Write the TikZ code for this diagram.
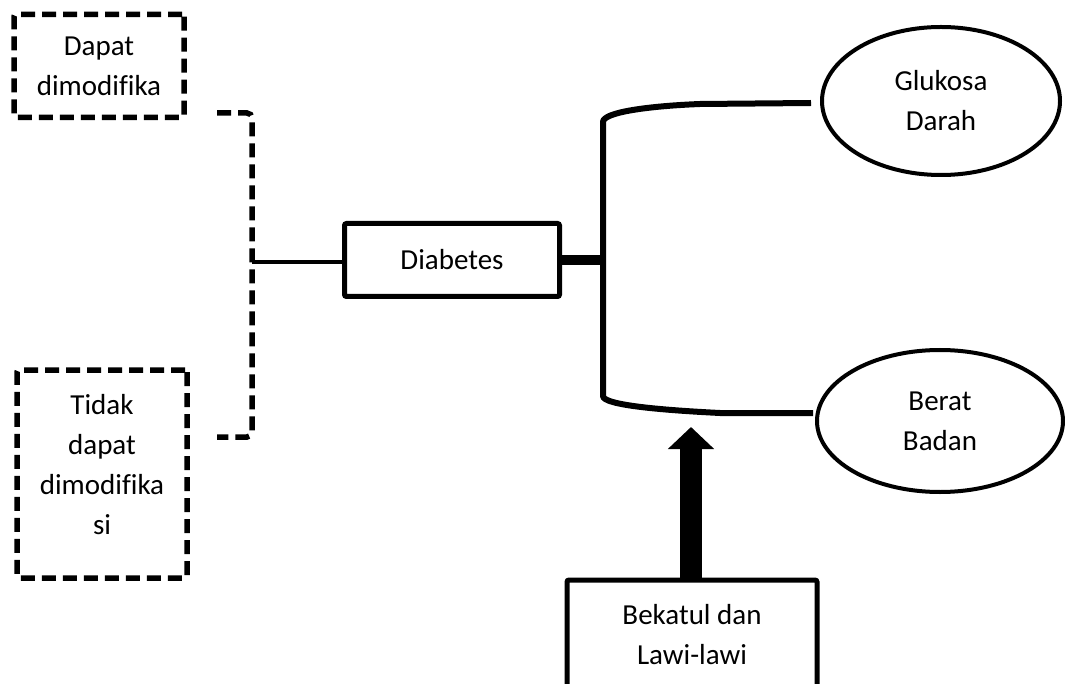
\documentclass[tikz,border=0pt]{standalone}
\usepackage{fontspec}
\setmainfont[Ligatures=NoCommon]{Carlito}
\usetikzlibrary{shapes.geometric,arrows.meta}
\begin{document}
\begin{tikzpicture}[x=1pt,y=-1pt,
 txt/.style={font=\fontsize{29}{40}\selectfont, align=center},
 dbox/.style={draw, line width=5.5pt, dash pattern=on 14pt off 7pt, rounded corners=2pt, txt, inner sep=0pt},
 sbox/.style={draw, line width=5pt, rounded corners=2pt, txt, inner sep=0pt},
 ell/.style={draw, ellipse, line width=4pt, txt, inner sep=0pt},
 dline/.style={line width=5.5pt, dash pattern=on 14pt off 7pt, rounded corners=5pt},
]
\clip (0,0) rectangle (1065,684);
\node[dbox, minimum width=170pt, minimum height=103pt] (mod) at (99,66) {Dapat\\dimodifika};
\node[dbox, minimum width=170pt, minimum height=208pt] (nmod) at (102,474) {Tidak\\dapat\\dimodifika\\si\\[-20pt]\mbox{}};
\node[sbox, minimum width=215pt, minimum height=73pt] (diab) at (452,260) {Diabetes};
\node[ell, minimum width=238pt, minimum height=148pt] (gluk) at (941,101) {Glukosa\\Darah};
\node[ell, minimum width=246pt, minimum height=142pt] (berat) at (940,421) {Berat\\Badan};
\node[sbox, minimum width=250pt, minimum height=110pt] (bek) at (692,635) {Bekatul dan\\Lawi-lawi};

\coordinate (bt) at (217,113);
\coordinate (bb) at (217,437);
\coordinate (bj) at (252,262);
\draw[dline] (bt) -- (252,113) -- (252,437) -- (bb);
\draw[line width=4.5pt] (bj) -- (bj -| diab.west);

\coordinate (trunk) at (603,260);
\draw[line width=10pt] (diab.east) -- (trunk);
\draw[line width=6pt] ([xshift=-9pt,yshift=-2pt]gluk.west) -- (700,104)
  .. controls (650,106) and (603,112) .. (603,122) -- (603,396)
  .. controls (603,405) and (660,410) .. (720,413) -- ([xshift=-2pt,yshift=8pt]berat.west);

\coordinate (tip) at (691,427);
\draw[line width=22pt, -{Triangle[width=45pt,length=22pt]}] (bek.north -| tip) -- (tip);
\end{tikzpicture}
\end{document}
